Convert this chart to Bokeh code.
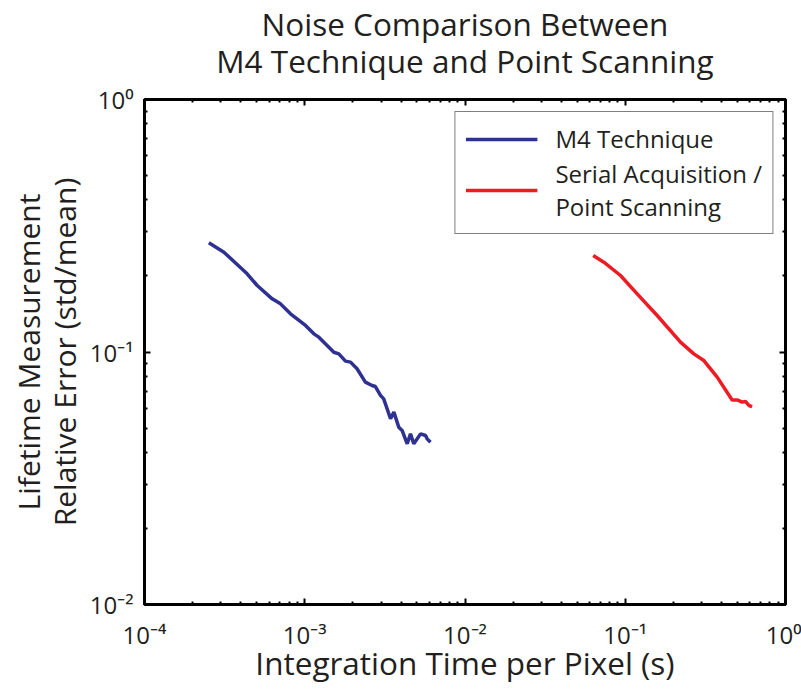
from bokeh.plotting import figure
from bokeh.models import (LogAxis, CustomJSTickFormatter, Legend, LegendItem, Range1d,
                          FixedTicker, Title)
from bokeh.embed import file_html
from bokeh.resources import INLINE

# ---- data ----
m4_time = [2.52e-4, 3.13e-4, 4.37e-4, 5.05e-4, 6.26e-4, 7.06e-4, 8.15e-4, 1.011e-3,
           1.14e-3, 1.224e-3, 1.519e-3, 1.632e-3, 1.796e-3, 1.93e-3, 2.12e-3, 2.39e-3,
           2.63e-3, 2.76e-3, 2.97e-3, 3.11e-3, 3.43e-3, 3.60e-3, 3.86e-3, 4.05e-3,
           4.36e-3, 4.57e-3, 4.79e-3, 5.28e-3, 5.67e-3, 5.81e-3, 6.09e-3]
m4_err = [0.2706, 0.2485, 0.2040, 0.1834, 0.1624, 0.1551, 0.1416, 0.1274,
          0.1180, 0.1145, 0.0998, 0.0983, 0.0920, 0.0912, 0.0858, 0.0760,
          0.0737, 0.0730, 0.0673, 0.0652, 0.0544, 0.0578, 0.0504, 0.0489,
          0.0433, 0.0474, 0.0433, 0.0474, 0.0467, 0.0453, 0.0439]

serial_time = [0.0631, 0.0735, 0.0934, 0.1187, 0.1582, 0.2212, 0.2679, 0.3094,
               0.3747, 0.4646, 0.4993, 0.5366, 0.5628, 0.5905, 0.6194]
serial_err = [0.2411, 0.2268, 0.2009, 0.1700, 0.1395, 0.1094, 0.0983, 0.0925,
              0.0795, 0.0646, 0.0646, 0.0633, 0.0637, 0.0614, 0.0608]

x_limits = [1e-4, 1e0]
y_limits = [1e-2, 1e0]
x_major_ticks = [1e-4, 1e-3, 1e-2, 1e-1, 1e0]
y_major_ticks = [1e-2, 1e-1, 1e0]
minor_mult = [2, 3, 4, 5, 6, 7, 8, 9]
x_minor_ticks = [m * t for t in x_major_ticks[:-1] for m in minor_mult]
y_minor_ticks = [m * t for t in y_major_ticks[:-1] for m in minor_mult]

title_line1 = "Noise Comparison Between"
title_line2 = "M4 Technique and Point Scanning"
x_label = "Integration Time per Pixel (s)"
y_label = "Lifetime Measurement\nRelative Error (std/mean)"
label_m4 = "M4 Technique"
label_serial = "Serial Acquisition /\nPoint Scanning"

FONT = "Open Sans"
TXT = "#231f20"

p = figure(width=801, height=692, x_axis_type="log", y_axis_type="log",
           x_range=Range1d(*x_limits), y_range=Range1d(*y_limits),
           output_backend="svg", toolbar_location=None,
           min_border_left=144, min_border_top=99, min_border_right=16, min_border_bottom=88)
try:
    p.title = None
except Exception:
    p.title.text = ""

p.grid.visible = False
p.outline_line_color = "black"
p.outline_line_width = 3

fmt = CustomJSTickFormatter(code="""
const sup = {'-':'\u207b','0':'\u2070','1':'\u00b9','2':'\u00b2','3':'\u00b3','4':'\u2074','5':'\u2075'};
const e = Math.round(Math.log10(tick));
return '10' + String(e).split('').map(c => sup[c]).join('');
""")
blank = CustomJSTickFormatter(code="return '';")

def style_axis(ax, major, minor, labels=True):
    ax.ticker = FixedTicker(ticks=major, minor_ticks=minor)
    ax.axis_line_color = "black"
    ax.axis_line_width = 3
    ax.major_tick_in = 6
    ax.major_tick_out = 0
    ax.minor_tick_in = 3
    ax.minor_tick_out = 0
    ax.major_tick_line_width = 2
    ax.minor_tick_line_width = 2
    ax.major_tick_line_color = "black"
    ax.minor_tick_line_color = "black"
    if labels:
        ax.formatter = fmt
        ax.major_label_text_font = FONT
        ax.major_label_text_font_size = "24px"
        ax.major_label_text_color = TXT
        ax.major_label_text_line_height = 1.0
        ax.axis_label_text_font = FONT
        ax.axis_label_text_font_style = "normal"
        ax.axis_label_text_color = TXT
    else:
        ax.formatter = blank
        ax.major_label_text_font_size = "0px"
        ax.major_label_standoff = 0
        ax.axis_label_standoff = 0

style_axis(p.xaxis[0], x_major_ticks, x_minor_ticks)
style_axis(p.yaxis[0], y_major_ticks, y_minor_ticks)
p.xaxis[0].axis_label = x_label
p.yaxis[0].axis_label = y_label
p.xaxis[0].axis_label_text_font_size = "31.5px"
p.yaxis[0].axis_label_text_font_size = "30px"
p.xaxis[0].axis_label_text_line_height = 1.0
p.yaxis[0].axis_label_text_line_height = 0.88
p.xaxis[0].major_label_standoff = 13
p.xaxis[0].axis_label_standoff = -13
p.yaxis[0].major_label_standoff = 11
p.yaxis[0].axis_label_standoff = 2

ax_top = LogAxis()
ax_right = LogAxis()
style_axis(ax_top, x_major_ticks, x_minor_ticks, labels=False)
style_axis(ax_right, y_major_ticks, y_minor_ticks, labels=False)
p.add_layout(ax_top, "above")
p.add_layout(ax_right, "right")

# invisible spacer between the top ticks and the title lines
spacer = LogAxis(ticker=FixedTicker(ticks=x_major_ticks), formatter=blank,
                 axis_line_alpha=0, major_tick_line_alpha=0, minor_tick_line_alpha=0,
                 major_tick_in=0, major_tick_out=18, minor_tick_in=0, minor_tick_out=0,
                 major_label_text_font_size="0px", major_label_standoff=0,
                 axis_label_standoff=0)
p.add_layout(spacer, "above")

t2 = Title(text=title_line2, align="center", text_font=FONT, text_font_size="31.5px",
           text_font_style="normal", text_color=TXT, standoff=0)
t1 = Title(text=title_line1, align="center", text_font=FONT, text_font_size="31.5px",
           text_font_style="normal", text_color=TXT, standoff=-17)
p.add_layout(t2, "above")
p.add_layout(t1, "above")

r1 = p.line(m4_time, m4_err, line_color="#2e3192", line_width=3.5)
r2 = p.line(serial_time, serial_err, line_color="#ed1c24", line_width=3.5)

legend = Legend(items=[LegendItem(label=label_m4, renderers=[r1]),
                       LegendItem(label=label_serial, renderers=[r2])],
                location="top_right")
legend.label_text_font = FONT
legend.label_text_font_size = "24px"
legend.label_text_color = TXT
legend.border_line_color = "black"
legend.border_line_width = 1.5
legend.glyph_width = 72
legend.label_standoff = 18
legend.spacing = 2
legend.padding = 10
legend.margin = 12
legend.background_fill_alpha = 1
p.add_layout(legend)

open("out.html", "w").write(file_html(p, INLINE))
